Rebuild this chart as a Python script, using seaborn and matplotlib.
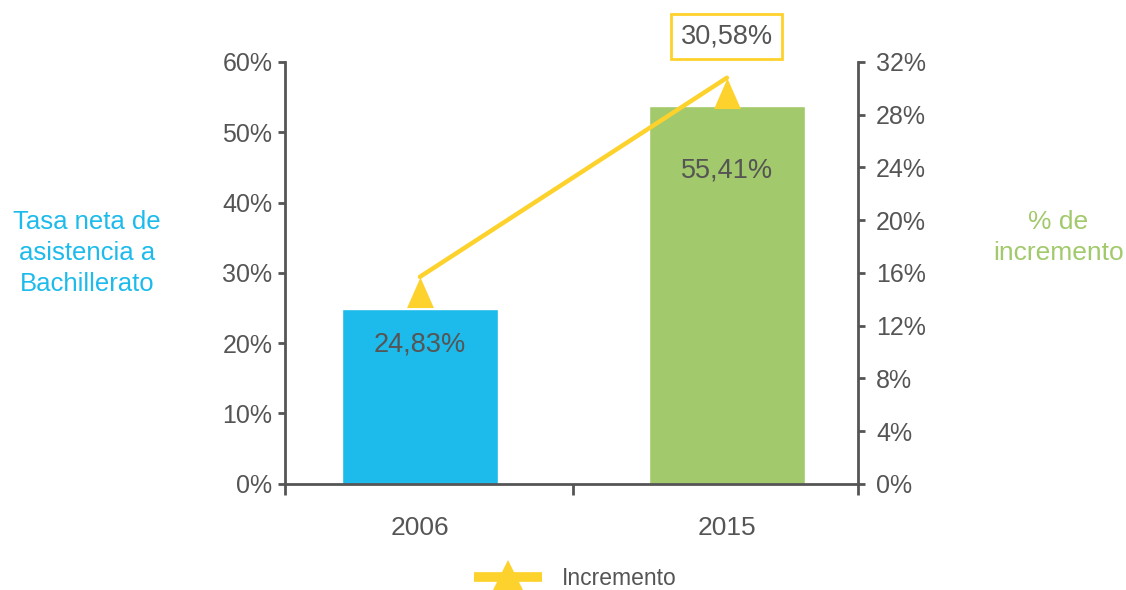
import matplotlib
matplotlib.use("Agg")
import matplotlib.pyplot as plt
from matplotlib.lines import Line2D
import seaborn as sns
import pandas as pd

# data
years = ["2006", "2015"]
tasa = [24.8, 53.8]
tasa_labels = ["24,83%", "55,41%"]
incremento = [15.7, 30.8]
incremento_label = "30,58%"
left_ticks = [0, 10, 20, 30, 40, 50, 60]
right_ticks = [0, 4, 8, 12, 16, 20, 24, 28, 32]

bar_colors = ["#1DBBEB", "#A2C96B"]
yellow = "#FDD22C"
gray = "#555555"

sns.set_style("white")
plt.rcParams["font.family"] = ["Liberation Sans", "DejaVu Sans"]

df = pd.DataFrame({"year": years, "tasa": tasa})

fig = plt.figure(figsize=(11.26, 5.9), dpi=100)
ax = fig.add_axes([0.253, 0.180, 0.509, 0.715])

sns.barplot(data=df, x="year", y="tasa", hue="year", palette=bar_colors,
            width=0.51, legend=False, ax=ax, saturation=1)
ax.set_xlim(-0.44, 1.427)
ax.set_ylim(0, 60)
ax.set_yticks(left_ticks)
ax.set_yticklabels([f"{t}%" for t in left_ticks])
ax.set_xlabel("")
ax.set_ylabel("")

for sp in ["top", "right"]:
    ax.spines[sp].set_visible(False)
for sp in ["left", "bottom"]:
    ax.spines[sp].set_color(gray)
    ax.spines[sp].set_linewidth(2)

ax.tick_params(axis="y", direction="out", length=5, width=2, color=gray,
               labelsize=18, labelcolor=gray, pad=4, left=True)
ax.tick_params(axis="x", which="major", length=0, labelsize=19,
               labelcolor=gray, pad=23)
ax.set_xticks([-0.44, 0.5, 1.427], minor=True)
ax.tick_params(axis="x", which="minor", direction="out", length=8,
               width=2, color=gray, bottom=True)

# value labels inside the bars
label_y = [19.8, 44.6]
for i, lab in enumerate(tasa_labels):
    ax.text(i, label_y[i], lab, ha="center", va="center",
            fontsize=19.5, color=gray)

# secondary axis
ax2 = ax.twinx()
ax2.set_ylim(0, 32)
ax2.set_yticks(right_ticks)
ax2.set_yticklabels([f"{t}%" for t in right_ticks])
for sp in ["top", "left", "bottom"]:
    ax2.spines[sp].set_visible(False)
ax2.spines["right"].set_color(gray)
ax2.spines["right"].set_linewidth(2)
ax2.tick_params(axis="y", direction="out", length=5, width=2, color=gray,
                labelsize=18, labelcolor=gray, pad=8, right=True)

sns.lineplot(x=[0, 1], y=incremento, color=yellow, linewidth=3.2, ax=ax2)
tri = [(-0.44, -1.0), (0.44, -1.0), (0.0, 0.0)]
ax2.plot([0, 1], incremento, linestyle="none", marker=tri, markersize=44,
         color=yellow, markeredgewidth=0)
ax2.set_xlim(-0.44, 1.427)

ax2.text(1, 33.9, incremento_label, ha="center", va="center", fontsize=19.5,
         color=gray, clip_on=False,
         bbox=dict(boxstyle="square,pad=0.35", fc="white", ec=yellow, lw=2))

# side titles
fig.text(0.077, 0.571, "Tasa neta de\nasistencia a\nBachillerato",
         ha="center", va="center", fontsize=18.5, color="#1DBBEB",
         linespacing=1.37)
fig.text(0.940, 0.597, "% de\nincremento", ha="center", va="center",
         fontsize=19, color="#A2C96B", linespacing=1.37)

handle = Line2D([0], [0], color=yellow, lw=7, marker="^", markersize=24,
                markeredgewidth=0, solid_capstyle="butt")
fig.legend([handle], ["Incremento"], loc="center", bbox_to_anchor=(0.511, 0.02),
           frameon=False, fontsize=16.5, labelcolor=gray, handlelength=2.97,
           handletextpad=0.9)

fig.savefig("out.png", dpi=100)
